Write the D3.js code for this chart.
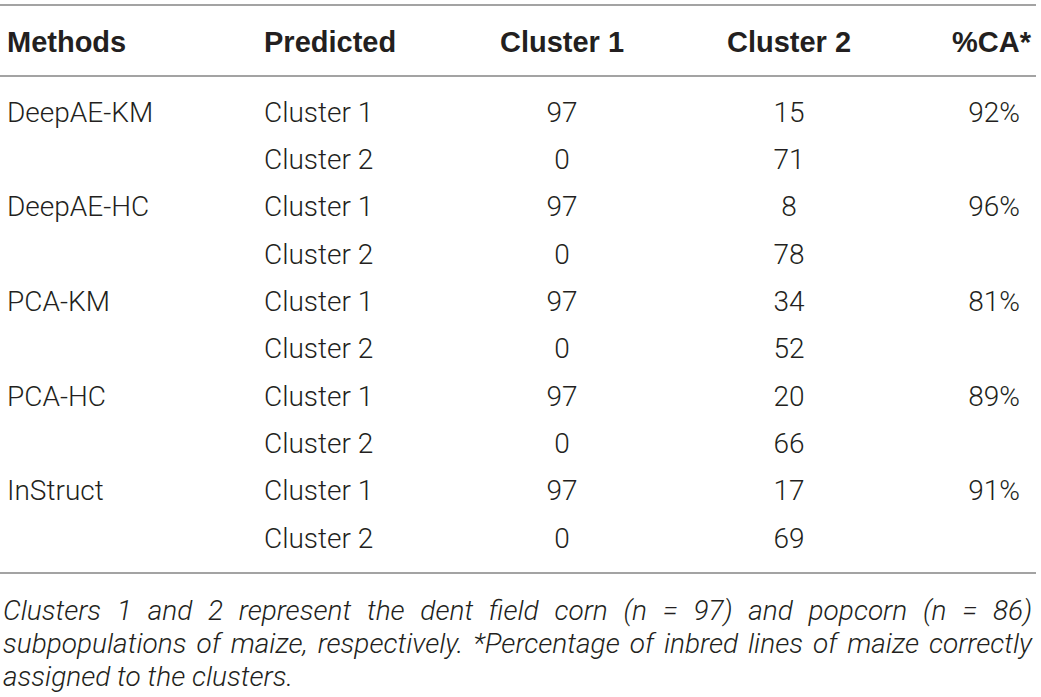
<!DOCTYPE html>
<html>
<head>
<meta charset="utf-8">
<script src="https://cdn.jsdelivr.net/npm/d3@7"></script>
<style>
  body { margin: 0; background: #fff; }
</style>
</head>
<body>
<svg id="table"></svg>
<script>
const headers = ["Methods", "Predicted", "Cluster 1", "Cluster 2", "%CA*"];
const methods = ["DeepAE-KM", "DeepAE-HC", "PCA-KM", "PCA-HC", "InStruct"];
const predicted = ["Cluster 1", "Cluster 2"];
const cluster1Counts = [[97, 0], [97, 0], [97, 0], [97, 0], [97, 0]];
const cluster2Counts = [[15, 71], [8, 78], [34, 52], [20, 66], [17, 69]];
const accuracy = ["92%", "96%", "81%", "89%", "91%"];
const footnote = [
    "Clusters 1 and 2 represent the dent field corn (n = 97) and popcorn (n = 86)",
    "subpopulations of maize, respectively. *Percentage of inbred lines of maize correctly",
    "assigned to the clusters."
];

const width = 1041, height = 697;
const textColor = "#231f20";
const ruleColor = "#a3a3a3";
const bodyFont = "Roboto, 'Liberation Sans', sans-serif";

const svg = d3.select("#table")
    .attr("width", width)
    .attr("height", height);

// flatten the table: two rows per method
const rows = [];
methods.forEach((m, i) => {
    predicted.forEach((p, j) => {
        rows.push({
            method: j === 0 ? m : "",
            predicted: p,
            c1: cluster1Counts[i][j],
            c2: cluster2Counts[i][j],
            ca: j === 0 ? accuracy[i] : ""
        });
    });
});

const yScale = d3.scalePoint()
    .domain(d3.range(rows.length))
    .range([112, 538]);

// column x and anchor
const cols = [
    {key: "method", x: 7, anchor: "start"},
    {key: "predicted", x: 264, anchor: "start"},
    {key: "c1", x: 562, anchor: "middle"},
    {key: "c2", x: 789, anchor: "middle"},
    {key: "ca", x: 1020, anchor: "end"}
];

// rules
svg.selectAll("line.rule")
    .data([5, 76, 573])
    .join("line")
    .attr("class", "rule")
    .attr("x1", 0)
    .attr("x2", 1036)
    .attr("y1", d => d)
    .attr("y2", d => d)
    .attr("stroke", ruleColor)
    .attr("stroke-width", 2);

// header
svg.append("g")
    .selectAll("text")
    .data(headers)
    .join("text")
    .attr("x", (d, i) => i === 4 ? 1031 : cols[i].x)
    .attr("y", 42)
    .attr("dy", "0.35em")
    .attr("text-anchor", (d, i) => cols[i].anchor)
    .attr("font-family", "'Liberation Sans', Arial, sans-serif")
    .attr("font-weight", "bold")
    .attr("font-size", "29px")
    .attr("fill", textColor)
    .text(d => d);

// body cells
const rowG = svg.append("g")
    .selectAll("g")
    .data(rows)
    .join("g")
    .attr("transform", (d, i) => `translate(0, ${yScale(i)})`);

rowG.selectAll("text")
    .data(d => cols.map(c => ({c, v: d[c.key]})))
    .join("text")
    .attr("x", d => d.c.x)
    .attr("dy", "0.35em")
    .attr("text-anchor", d => d.c.anchor)
    .attr("font-family", bodyFont)
    .attr("font-weight", 300)
    .attr("font-size", "28px")
    .attr("fill", textColor)
    .text(d => d.v);

// footnote, first two lines justified by widening word gaps
const lineWidth = 1029;
svg.append("g")
    .selectAll("text")
    .data(footnote)
    .join("text")
    .attr("x", 3)
    .attr("y", (d, i) => 620 + i * 33)
    .attr("font-family", bodyFont)
    .attr("font-weight", 300)
    .attr("font-style", "italic")
    .attr("font-size", "28px")
    .attr("fill", textColor)
    .text(d => d)
    .each(function(d, i) {
        if (i === footnote.length - 1) return;
        const natural = this.getComputedTextLength();
        const gaps = d.split(" ").length - 1;
        d3.select(this).attr("word-spacing", (lineWidth - natural) / gaps);
    });
</script>
</body>
</html>
